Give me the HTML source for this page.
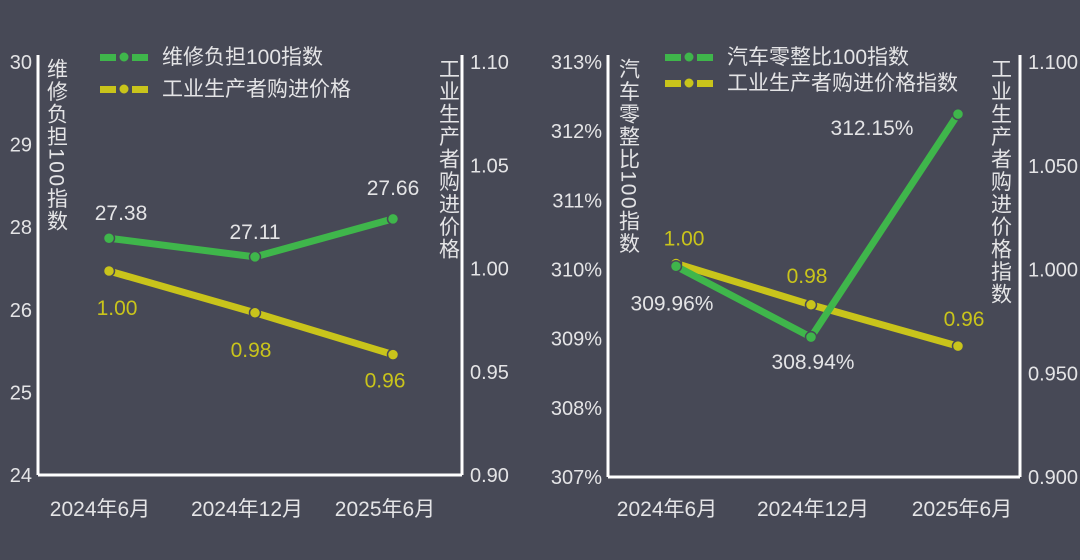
<!DOCTYPE html>
<html><head><meta charset="utf-8"><style>
html,body{margin:0;padding:0;background:#474956;}
svg{display:block;font-family:"Liberation Sans","Noto Sans CJK SC",sans-serif;}
</style></head><body>
<svg id="c" width="1080" height="560" viewBox="0 0 1080 560">
<rect width="1080" height="560" fill="#474956"/>
</svg>
<script>
const NS="http://www.w3.org/2000/svg";
const svg=document.getElementById('c');
const categories=["2024年6月","2024年12月","2025年6月"];
const leftGreen=[27.38,27.11,27.66];
const leftYellow=[1.00,0.98,0.96];
const leftTicksL=["30","29","28","26","25","24"];
const leftTicksR=["1.10","1.05","1.00","0.95","0.90"];
const rightGreen=[309.96,308.94,312.15];
const rightYellow=[1.00,0.98,0.96];
const rightTicksL=["313%","312%","311%","310%","309%","308%","307%"];
const rightTicksR=["1.100","1.050","1.000","0.950","0.900"];
const GREEN="#3fb64b",YEL="#c9c41b",TXT="#e4e4e6";
function el(t,a,p){const e=document.createElementNS(NS,t);for(const k in a)e.setAttribute(k,a[k]);(p||svg).appendChild(e);return e;}
function txt(s,x,y,a){const e=el('text',Object.assign({x:x,y:y,fill:TXT,'font-size':20},a||{}));e.textContent=s;return e;}
function lin(d0,d1,r0,r1){return v=>r0+(v-d0)*(r1-r0)/(d1-d0);}

function panel(o){
  let a=el('line',{x1:o.xl,y1:55,x2:o.xl,y2:o.yb,stroke:"#fff",'stroke-width':3});
  
  a=el('line',{x1:o.xr,y1:55,x2:o.xr,y2:o.yb,stroke:"#fff",'stroke-width':3});
  
  a=el('line',{x1:o.xl,y1:o.yb,x2:o.xr,y2:o.yb,stroke:"#fff",'stroke-width':3});
  
  o.ticksL.forEach((t,i)=>{const y=62+i*(o.yb-62)/(o.ticksL.length-1);
    const e=txt(t,o.xl-6,y+7,{'text-anchor':'end'});
    });
  o.ticksR.forEach((t,i)=>{const y=62+i*(o.yb-62)/(o.ticksR.length-1);
    const e=txt(t,o.xr+8,y+7,{'text-anchor':'start'});
    });
  categories.forEach((c,i)=>{const e=txt(c,o.lx[i],516,{'text-anchor':'middle','font-size':21});
    });
  let t=txt(o.titleL,o.tlx,58,{'writing-mode':'tb','glyph-orientation-vertical':0,'letter-spacing':1.5,'font-size':21});
  
  t=txt(o.titleR,o.trx,58,{'writing-mode':'tb','glyph-orientation-vertical':0,'letter-spacing':1.5,'font-size':21});
  
  const series=[[o.yellow,o.sy2,YEL,'yellow',o.labY],[o.green,o.sy1,GREEN,'green',o.labG]];
  series.forEach(([vals,sc,col,nm,lab])=>{
    const pts=vals.map((v,i)=>[o.px[i],sc(v)]);
    const p=el('polyline',{points:pts.map(p=>p.join(',')).join(' '),fill:'none',stroke:col,'stroke-width':7,'stroke-linejoin':'round'});
    
    pts.forEach((q,i)=>{const c=el('circle',{cx:q[0],cy:q[1],r:5.5,fill:col,stroke:'#474956','stroke-width':1.5});
      
      const d=lab[i];const s=txt(vals[i].toFixed(2)+(o.pct&&nm==='green'?'%':''),q[0]+d[0],q[1]+d[1],{'text-anchor':'middle','font-size':21,fill:nm==='yellow'?YEL:TXT});
      });
  });
  [[o.legG,GREEN,57],[o.legY,YEL,o.legY2]].forEach(([s,col,y],k)=>{
    const g=el('g',{});
    
    el('rect',{x:o.legx,y:y-3,width:16,height:7,fill:col},g);
    el('circle',{cx:o.legx+24,cy:y,r:4.5,fill:col},g);
    el('rect',{x:o.legx+32,y:y-3,width:16,height:7,fill:col},g);
    const e=txt(s,o.legx+62,y+7,{'font-size':21});g.appendChild(e);
  });
}
panel({id:'left',xl:38,xr:462,yb:475,ticksL:leftTicksL,ticksR:leftTicksR,lx:[100,247,385],px:[109,255,393],
  titleL:"维修负担100指数",titleR:"工业生产者购进价格",tlx:56,trx:448,
  green:leftGreen,yellow:leftYellow,sy1:lin(24,30,472,57),sy2:lin(0.90,1.10,480,62),
  labG:[[12,-18],[0,-18],[0,-24]],labY:[[8,44],[-4,44],[-8,33]],
  legG:"维修负担100指数",legY:"工业生产者购进价格",legx:100,legY2:89,pct:false});
panel({id:'right',xl:608,xr:1020,yb:477,ticksL:rightTicksL,ticksR:rightTicksR,lx:[667,813,962],px:[676,811,958],
  titleL:"汽车零整比100指数",titleR:"工业生产者购进价格指数",tlx:628,trx:1000,
  green:rightGreen,yellow:rightYellow,sy1:lin(307,313,472,55),sy2:lin(0.90,1.10,470,57),
  labG:[[-4,44],[2,32],[-86,21]],labY:[[8,-18],[-4,-22],[6,-20]],
  legG:"汽车零整比100指数",legY:"工业生产者购进价格指数",legx:665,legY2:83,pct:true});
</script>
</body></html>
